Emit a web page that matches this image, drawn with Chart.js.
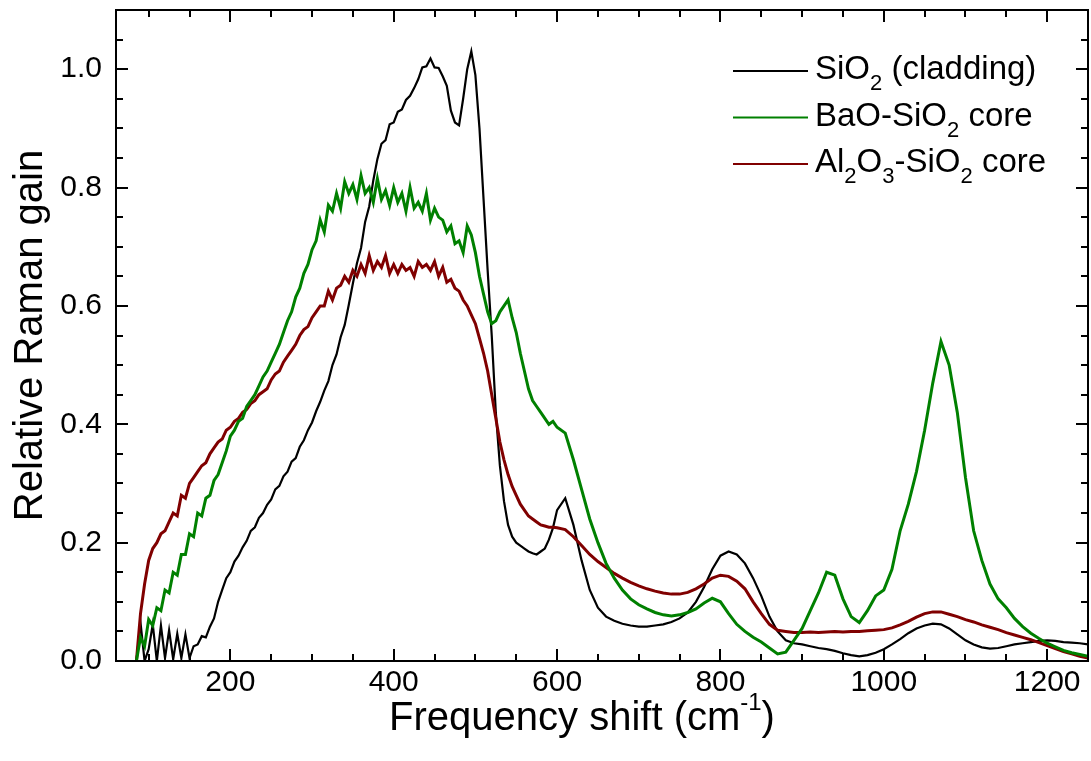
<!DOCTYPE html>
<html>
<head>
<meta charset="utf-8">
<script src="https://cdn.jsdelivr.net/npm/chart.js@4.4.0/dist/chart.umd.min.js"></script>
<style>
  html, body { margin: 0; padding: 0; background: #fff; }
</style>
</head>
<body>
<canvas id="raman" width="1091" height="761"></canvas>
<script>
// frequency samples (cm-1): 5 cm-1 steps up to 600, then 10 cm-1 steps
const freqLow = [
  85, 90, 95, 100, 105, 110, 115, 120, 125, 130, 135, 140, 145, 150, 155, 160, 165, 170, 175, 180, 185, 190, 195, 200,
  205, 210, 215, 220, 225, 230, 235, 240, 245, 250, 255, 260, 265, 270, 275, 280, 285, 290, 295, 300,
  305, 310, 315, 320, 325, 330, 335, 340, 345, 350, 355, 360, 365, 370, 375, 380, 385, 390, 395, 400,
  405, 410, 415, 420, 425, 430, 435, 440, 445, 450, 455, 460, 465, 470, 475, 480, 485, 490, 495, 500,
  505, 510, 515, 520, 525, 530, 535, 540, 545, 550, 555, 560, 565, 570, 575, 580, 585, 590, 595, 600
];
const freqHigh = [
  610, 620, 630, 640, 650, 660, 670, 680, 690, 700,
  710, 720, 730, 740, 750, 760, 770, 780, 790, 800,
  810, 820, 830, 840, 850, 860, 870, 880, 890, 900,
  910, 920, 930, 940, 950, 960, 970, 980, 990, 1000,
  1010, 1020, 1030, 1040, 1050, 1060, 1070, 1080, 1090, 1100,
  1110, 1120, 1130, 1140, 1150, 1160, 1170, 1180, 1190, 1200,
  1210, 1220, 1230, 1240, 1250
];

// SiO2 (cladding)
const sio2Low = [
  0.0, 0.065, 0.0, 0.02, 0.062, 0.0, 0.06, 0.005, 0.052, 0.003, 0.046, 0.005, 0.045, 0.005, 0.025, 0.028, 0.042, 0.04, 0.058, 0.072, 0.1, 0.12, 0.14, 0.15,
  0.168, 0.178, 0.192, 0.203, 0.22, 0.226, 0.242, 0.25, 0.264, 0.273, 0.29, 0.296, 0.312, 0.32, 0.337, 0.343, 0.362, 0.373, 0.39, 0.403,
  0.422, 0.438, 0.457, 0.473, 0.5, 0.518, 0.547, 0.568, 0.602, 0.638, 0.672, 0.698, 0.742, 0.768, 0.812, 0.848, 0.874, 0.88, 0.907, 0.91,
  0.928, 0.932, 0.948, 0.955, 0.968, 0.983, 1.003, 1.005, 1.018, 1.003, 1.002, 0.988, 0.972, 0.93, 0.91, 0.905, 0.95, 1.0, 1.03, 0.99,
  0.9, 0.78, 0.66, 0.55, 0.42, 0.33, 0.27, 0.23, 0.21, 0.2, 0.195, 0.19, 0.185, 0.182, 0.18, 0.185, 0.19, 0.205, 0.225, 0.255
];
const sio2High = [
  0.275, 0.23, 0.17, 0.12, 0.09, 0.075, 0.068, 0.063, 0.06, 0.058,
  0.058, 0.06, 0.062, 0.066, 0.072, 0.082, 0.1, 0.125, 0.155, 0.178,
  0.185, 0.18, 0.165, 0.14, 0.11, 0.075, 0.05, 0.035, 0.03, 0.028,
  0.025, 0.022, 0.02, 0.017, 0.013, 0.01, 0.008, 0.01, 0.014, 0.02,
  0.028, 0.037, 0.047, 0.055, 0.06, 0.063, 0.062, 0.055, 0.045, 0.035,
  0.028, 0.023, 0.021, 0.022, 0.025, 0.028, 0.03, 0.032, 0.034, 0.035,
  0.034, 0.032, 0.031, 0.03, 0.028
];

// BaO-SiO2 core
const baoLow = [
  0.0, 0.04, 0.025, 0.07, 0.06, 0.09, 0.085, 0.12, 0.115, 0.15, 0.145, 0.18, 0.18, 0.215, 0.21, 0.25, 0.245, 0.275, 0.28, 0.305, 0.315, 0.335, 0.355, 0.38,
  0.39, 0.405, 0.41, 0.43, 0.44, 0.45, 0.465, 0.48, 0.49, 0.505, 0.52, 0.535, 0.555, 0.575, 0.59, 0.615, 0.63, 0.655, 0.67, 0.695,
  0.71, 0.745, 0.725, 0.77, 0.76, 0.79, 0.765, 0.81, 0.79, 0.805, 0.78, 0.82, 0.79, 0.8, 0.775, 0.815, 0.78, 0.795, 0.77, 0.8,
  0.775, 0.79, 0.76, 0.8, 0.765, 0.775, 0.76, 0.79, 0.745, 0.765, 0.75, 0.745, 0.725, 0.735, 0.705, 0.71, 0.69, 0.735, 0.72, 0.69,
  0.65, 0.62, 0.59, 0.57, 0.575, 0.59, 0.6, 0.61, 0.58, 0.555, 0.52, 0.49, 0.46, 0.44, 0.43, 0.42, 0.41, 0.4, 0.405, 0.395
];
const baoHigh = [
  0.385, 0.34, 0.29, 0.24, 0.2, 0.165, 0.14, 0.12, 0.105, 0.095,
  0.088, 0.082, 0.078, 0.076, 0.078, 0.082, 0.088, 0.098, 0.106, 0.1,
  0.08, 0.062, 0.05, 0.04, 0.032, 0.022, 0.012, 0.015, 0.035, 0.055,
  0.085, 0.115, 0.15, 0.145, 0.105, 0.075, 0.065, 0.085, 0.11, 0.12,
  0.155, 0.22, 0.265, 0.32, 0.39, 0.47, 0.54, 0.5, 0.42, 0.31,
  0.22, 0.17, 0.13, 0.105, 0.09, 0.072, 0.058, 0.047, 0.038, 0.03,
  0.024, 0.018, 0.014, 0.011, 0.008
];

// Al2O3-SiO2 core
const alLow = [
  0.0, 0.08, 0.13, 0.17, 0.19, 0.2, 0.215, 0.22, 0.235, 0.25, 0.245, 0.28, 0.275, 0.3, 0.31, 0.32, 0.33, 0.335, 0.35, 0.36, 0.37, 0.375, 0.39, 0.395,
  0.405, 0.41, 0.42, 0.425, 0.435, 0.44, 0.45, 0.455, 0.46, 0.475, 0.485, 0.49, 0.505, 0.515, 0.525, 0.535, 0.55, 0.56, 0.565, 0.58,
  0.59, 0.6, 0.6, 0.625, 0.61, 0.63, 0.635, 0.65, 0.64, 0.66, 0.65, 0.67, 0.655, 0.685, 0.66, 0.675, 0.665, 0.685, 0.655, 0.67,
  0.655, 0.67, 0.66, 0.665, 0.65, 0.675, 0.665, 0.67, 0.66, 0.675, 0.65, 0.665, 0.64, 0.645, 0.63, 0.625, 0.61, 0.6, 0.585, 0.57,
  0.545, 0.52, 0.49, 0.45, 0.41, 0.37, 0.34, 0.315, 0.295, 0.28, 0.265, 0.255, 0.245, 0.24, 0.235, 0.23, 0.228, 0.226, 0.226, 0.225
];
const alHigh = [
  0.222, 0.21, 0.195, 0.18, 0.168, 0.158, 0.148, 0.14, 0.133, 0.127,
  0.122, 0.118, 0.115, 0.113, 0.113, 0.116, 0.122, 0.13, 0.14, 0.145,
  0.143, 0.135, 0.122, 0.1, 0.08, 0.062, 0.052, 0.05, 0.048, 0.048,
  0.049, 0.048, 0.049, 0.05, 0.049, 0.05, 0.05, 0.051, 0.052, 0.053,
  0.056, 0.061, 0.067, 0.074, 0.08, 0.083, 0.083, 0.079, 0.075, 0.07,
  0.066, 0.061, 0.057, 0.053, 0.048, 0.044, 0.04, 0.036, 0.031, 0.026,
  0.021, 0.016, 0.012, 0.008, 0.005
];

const xMajorTicks = [200, 400, 600, 800, 1000, 1200];
const yMajorTicks = [0.0, 0.2, 0.4, 0.6, 0.8, 1.0];

const FONT = '"Liberation Sans", Arial, sans-serif';
const freq = freqLow.concat(freqHigh);
const toPoints = (lo, hi) => lo.concat(hi).map((v, i) => ({ x: freq[i], y: v }));

// legend entries, pieces flagged 1 are drawn as subscripts
const legendItems = [
  { color: '#000000', parts: [['SiO'], ['2', 1], [' (cladding)']] },
  { color: '#008000', parts: [['BaO-SiO'], ['2', 1], [' core']] },
  { color: '#800000', parts: [['Al'], ['2', 1], ['O'], ['3', 1], ['-SiO'], ['2', 1], [' core']] },
];

const decorations = {
  id: 'decorations',
  afterDatasetsDraw(chart) {
    const { ctx, chartArea: a, scales: { x, y } } = chart;
    ctx.save();
    ctx.strokeStyle = '#000';
    ctx.lineWidth = 2;
    ctx.strokeRect(a.left, a.top, a.right - a.left, a.bottom - a.top);
    ctx.beginPath();
    // inward ticks on all four sides, minor every 50 / 0.05
    for (let v = 100; v < 1250; v += 50) {
      const px = Math.round(x.getPixelForValue(v));
      const len = xMajorTicks.includes(v) ? 12 : 7;
      ctx.moveTo(px, a.bottom); ctx.lineTo(px, a.bottom - len);
      ctx.moveTo(px, a.top); ctx.lineTo(px, a.top + len);
    }
    for (let i = 1; i < 22; i++) {
      const py = Math.round(y.getPixelForValue(i / 20));
      const len = i % 4 === 0 ? 12 : 7;
      ctx.moveTo(a.left, py); ctx.lineTo(a.left + len, py);
      ctx.moveTo(a.right, py); ctx.lineTo(a.right - len, py);
    }
    ctx.stroke();
    ctx.restore();
  },
  afterDraw(chart) {
    const { ctx, chartArea: a } = chart;
    ctx.save();
    ctx.fillStyle = '#000';
    ctx.textBaseline = 'alphabetic';

    // x axis title with superscript
    const main = '40px ' + FONT, sup = '24px ' + FONT;
    ctx.font = main;
    const w1 = ctx.measureText('Frequency shift (cm').width;
    const w3 = ctx.measureText(')').width;
    ctx.font = sup;
    const w2 = ctx.measureText('-1').width;
    let tx = (a.left + a.right) / 2 - 20 - (w1 + w2 + w3) / 2;
    const base = 730;
    ctx.textAlign = 'left';
    ctx.font = main; ctx.fillText('Frequency shift (cm', tx, base); tx += w1;
    ctx.font = sup; ctx.fillText('-1', tx, base - 20); tx += w2;
    ctx.font = main; ctx.fillText(')', tx, base);

    // y axis title
    ctx.save();
    ctx.translate(42, (a.top + a.bottom) / 2);
    ctx.rotate(-Math.PI / 2);
    ctx.textAlign = 'center';
    ctx.font = main;
    ctx.fillText('Relative Raman gain', 0, 0);
    ctx.restore();

    // legend
    legendItems.forEach((item, k) => {
      const baseY = 79 + k * 46.5;
      ctx.strokeStyle = item.color;
      ctx.lineWidth = 2;
      ctx.beginPath();
      ctx.moveTo(733, baseY - 8); ctx.lineTo(808, baseY - 8);
      ctx.stroke();
      let lx = 815;
      ctx.textAlign = 'left';
      item.parts.forEach(([t, isSub]) => {
        ctx.font = (isSub ? '22px ' : '33px ') + FONT;
        ctx.fillText(t, lx, isSub ? baseY + 11 : baseY);
        lx += ctx.measureText(t).width;
      });
    });
    ctx.restore();
  }
};

new Chart(document.getElementById('raman'), {
  type: 'line',
  data: {
    datasets: [
      { label: 'SiO2 (cladding)', data: toPoints(sio2Low, sio2High), borderColor: '#000000', borderWidth: 2.2, order: 2 },
      { label: 'BaO-SiO2 core', data: toPoints(baoLow, baoHigh), borderColor: '#008000', borderWidth: 3, order: 0 },
      { label: 'Al2O3-SiO2 core', data: toPoints(alLow, alHigh), borderColor: '#800000', borderWidth: 3, order: 1 },
    ]
  },
  options: {
    responsive: false,
    animation: false,
    layout: { padding: { left: 0, right: 3, top: 10, bottom: 0 } },
    elements: { point: { radius: 0 }, line: { tension: 0 } },
    plugins: { legend: { display: false }, tooltip: { enabled: false } },
    scales: {
      x: {
        type: 'linear', min: 60, max: 1250,
        grid: { display: false, drawTicks: false },
        border: { display: false },
        afterBuildTicks: (s) => { s.ticks = xMajorTicks.map(v => ({ value: v })); },
        afterFit: (s) => { s.height = 100; s.paddingLeft = 0; s.paddingRight = 0; },
        ticks: { color: '#000', font: { family: FONT, size: 30 }, padding: 4, maxRotation: 0,
                 callback: (v) => String(v) }
      },
      y: {
        min: 0, max: 1.1,
        grid: { display: false, drawTicks: false },
        border: { display: false },
        afterBuildTicks: (s) => { s.ticks = yMajorTicks.map(v => ({ value: v })); },
        afterFit: (s) => { s.width = 116; s.paddingTop = 0; s.paddingBottom = 0; },
        ticks: { color: '#000', font: { family: FONT, size: 30 }, padding: 14,
                 callback: (v) => v.toFixed(1) }
      }
    }
  },
  plugins: [decorations]
});
</script>
</body>
</html>
